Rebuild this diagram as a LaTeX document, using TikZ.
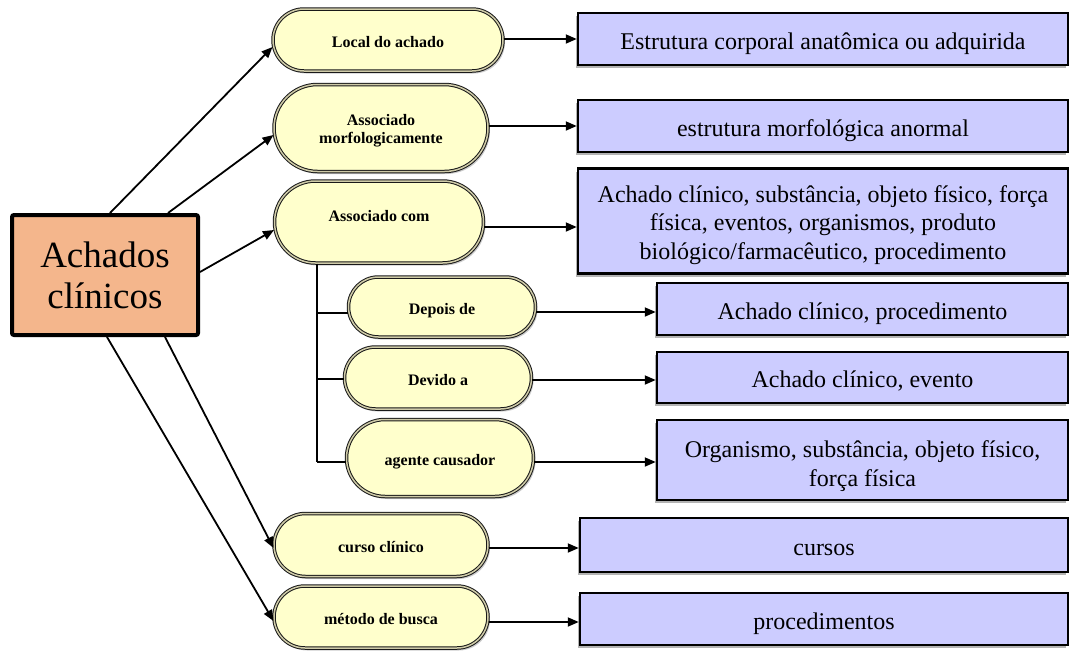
\documentclass[tikz,border=0pt]{standalone}
\usepackage{fontspec}
\setmainfont{Liberation Serif}
\usetikzlibrary{shapes.misc,shadows,arrows.meta}

\definecolor{rootfill}{HTML}{F4B68C}
\definecolor{relfill}{HTML}{FFFFCC}
\definecolor{relgap}{HTML}{CFCBA8}
\definecolor{valfill}{HTML}{CCCCFF}

\tikzset{
  root/.style={draw=black, line width=4pt, fill=rootfill, rounded corners=2pt,
    minimum width=186pt, minimum height=120pt, inner sep=0pt, align=center,
    font=\fontsize{37}{41}\selectfont},
  rel/.style={rounded rectangle, draw=black!90, line width=1pt,
    double=relgap, double distance=1.5pt, fill=relfill, inner sep=0pt,
    align=center, font=\fontsize{16}{18}\selectfont\bfseries,
    drop shadow={shadow xshift=2pt, shadow yshift=-2.5pt, opacity=0.4}},
  relline/.style={rel, text height=16pt, text depth=2pt},
  val/.style={draw=black, line width=2.5pt, fill=valfill, inner sep=0pt,
    align=center, font=\fontsize{24}{28.5}\selectfont,
    drop shadow={shadow xshift=-2pt, shadow yshift=-3pt, opacity=0.6}},
  valline/.style={val, text height=23pt, text depth=3pt},
  arr/.style={line width=1.8pt, -{Triangle[length=11pt,width=9pt]}},
  branch/.style={line width=1.8pt}
}

\begin{document}
\begin{tikzpicture}[x=1pt, y=-1pt]
\useasboundingbox (0,0) rectangle (1072,651);

% root concept
\node[root] (root) at (105,275) {Achados\\clínicos};

% attribute nodes
\node[relline, minimum width=230pt, minimum height=62pt] (loc)  at (388,40)  {Local do achado};
\node[rel, minimum width=214pt, minimum height=87pt, text height=32pt, text depth=0.5pt] (morf) at (381,128) {Associado\\morfologicamente};
\node[rel, minimum width=209pt, minimum height=82pt, text height=12pt, text depth=13pt] (assoc) at (379,222) {Associado com};
\node[relline, minimum width=187pt, minimum height=60pt] (depois) at (442,307) {Depois de};
\node[relline, minimum width=187pt, minimum height=62pt] (devido) at (438,378) {Devido a};
\node[relline, minimum width=187pt, minimum height=77pt] (agente) at (440,458) {agente causador};
\node[relline, minimum width=214pt, minimum height=63pt] (curso) at (381,545) {curso clínico};
\node[relline, minimum width=214pt, minimum height=62pt] (metodo) at (381,617) {método de busca};

% value ranges
\node[valline, minimum width=490pt, minimum height=52pt] (v1) at (823,39)  {Estrutura corporal anatômica ou adquirida};
\node[valline, minimum width=490pt, minimum height=52pt] (v2) at (823,126) {estrutura morfológica anormal};
\node[val, minimum width=490pt, minimum height=105pt, text height=78pt, text depth=2pt] (v3) at (823,221)
  {Achado clínico, substância, objeto físico, força\\física, eventos, organismos, produto\\biológico/farmacêutico, procedimento};
\node[valline, minimum width=411pt, minimum height=52pt] (v4) at (862.5,309) {Achado clínico, procedimento};
\node[valline, minimum width=411pt, minimum height=51pt] (v5) at (862.5,377.5) {Achado clínico, evento};
\node[val, minimum width=411pt, minimum height=80pt, text height=52pt, text depth=0pt] (v6) at (862.5,460)
  {Organismo, substância, objeto físico,\\força física};
\node[valline, minimum width=488pt, minimum height=54pt] (v7) at (824,545) {cursos};
\node[valline, minimum width=488pt, minimum height=52pt] (v8) at (824,619) {procedimentos};

% root to attributes
\draw[arr] ([xshift=5pt]root.north) -- ([yshift=-7pt]loc.west);
\draw[arr] ([xshift=63pt]root.north) -- ([yshift=-7pt]morf.west);
\draw[arr] ([yshift=3pt]root.east) -- ([yshift=-8pt]assoc.west);
\draw[arr] ([xshift=60pt]root.south) -- ([yshift=-3pt]curso.west);
\draw[arr] ([xshift=2pt]root.south) -- ([yshift=-4pt]metodo.west);

% attributes to value ranges
\draw[arr] (loc.east |- v1.west) -- (v1.west);
\draw[arr] (morf.east |- v2.west) -- (v2.west);
\draw[arr] (assoc.east |- 0,227) -- (v3.west |- 0,227);
\draw[arr] (depois.east |- 0,312) -- (v4.west |- 0,312);
\draw[arr] (devido.east |- 0,380) -- (v5.west |- 0,380);
\draw[arr] (agente.east |- 0,462) -- (v6.west |- 0,462);
\draw[arr] (curso.east |- 0,548) -- (v7.west |- 0,548);
\draw[arr] (metodo.east |- 0,622) -- (v8.west |- 0,622);

% refinements of "Associado com"
\coordinate (trunk) at (317,0);
\draw[branch] (trunk |- assoc.south) -- (trunk |- 0,462);
\draw[branch] (trunk |- 0,313) -- (depois.west |- 0,313);
\draw[branch] (trunk |- 0,379) -- (devido.west |- 0,379);
\draw[branch] (trunk |- 0,462) -- (agente.west |- 0,462);
\end{tikzpicture}
\end{document}
